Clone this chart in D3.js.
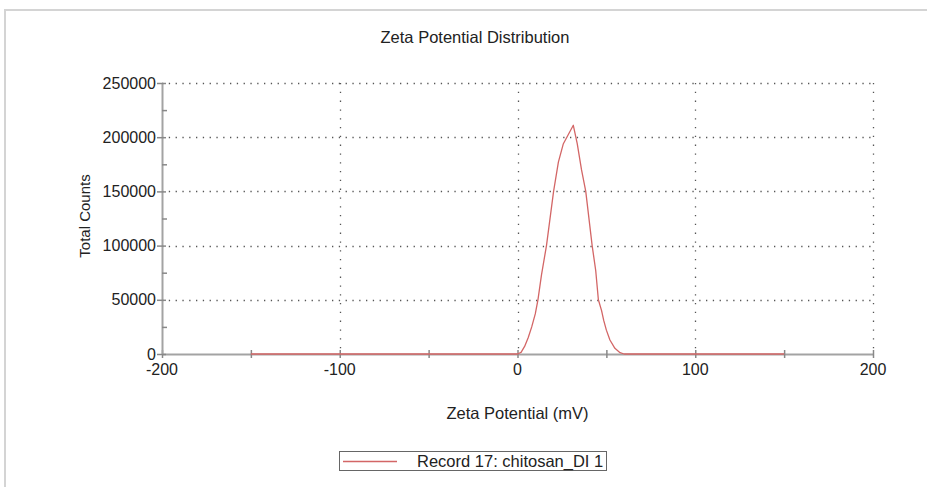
<!DOCTYPE html>
<html>
<head>
<meta charset="utf-8">
<script src="https://cdn.jsdelivr.net/npm/d3@7"></script>
<style>
  html, body { margin: 0; padding: 0; background: #fff; }
  svg { display: block; font-family: "Liberation Sans", Arial, sans-serif; }
</style>
</head>
<body>
<svg id="chart" width="927" height="487"></svg>
<script>
// Zeta potential distribution for one measurement record
const zetaPotential = [-150, 0, 2, 4, 6, 8, 10, 11.5, 13.5, 16.3, 20.3, 23, 25.8, 31.4, 33.6, 36, 38.4, 42, 44, 45.5, 47.3, 48.5, 50, 52, 54.8, 57.7, 60, 150];
const totalCounts   = [0, 0, 1500, 7000, 15000, 25000, 37000, 50000, 73000, 100000, 150000, 177000, 194000, 211000, 194000, 170000, 150000, 100000, 77000, 50000, 40000, 31000, 22000, 12900, 5200, 1200, 0, 0];

const xTicks = [-200, -100, 0, 100, 200];
const xMinorTicks = [-150, -50, 50, 150];
const yTicks = [0, 50000, 100000, 150000, 200000, 250000];
const yMinorTicks = [25000, 75000, 125000, 175000, 225000];

const titleText = "Zeta Potential Distribution";
const xLabelText = "Zeta Potential (mV)";
const yLabelText = "Total Counts";
const seriesName = "Record 17: chitosan_DI 1";

const svg = d3.select("#chart");
const W = 927, H = 487;
const plot = { left: 162, right: 873, top: 83, bottom: 354 };
const fontSize = 16.5;
const textColor = "#222";
const axisColor = "#a3a3a3";
const lineColor = "#d36666";

// outer frame (top and left edges)
svg.append("path")
  .attr("d", `M5,${H} L5,10 L${W},10`)
  .attr("fill", "none").attr("stroke", "#d4d4d4").attr("stroke-width", 2);

const x = d3.scaleLinear().domain([-200, 200]).range([plot.left, plot.right]);
const y = d3.scaleLinear().domain([0, 250000]).range([plot.bottom, plot.top]);

// dotted grid
const grid = svg.append("g").attr("stroke", "#555").attr("stroke-width", 1.3).attr("fill", "none");
grid.selectAll("line.h").data(yTicks.filter(d => d > 0)).join("line")
  .attr("class", "h")
  .attr("x1", plot.left).attr("x2", plot.right)
  .attr("y1", d => Math.round(y(d)) + 0.5).attr("y2", d => Math.round(y(d)) + 0.5)
  .attr("stroke-dasharray", "1.3,5.5");
grid.selectAll("line.v").data(xTicks.filter(d => d > -200)).join("line")
  .attr("class", "v")
  .attr("y1", plot.top).attr("y2", plot.bottom)
  .attr("x1", d => Math.round(x(d)) + 0.5).attr("x2", d => Math.round(x(d)) + 0.5)
  .attr("stroke-dasharray", "1.3,7.5");

// x axis: major and minor ticks, both crossing the axis line
const xAxisG = svg.append("g").attr("transform", `translate(0,${plot.bottom})`)
  .call(d3.axisBottom(x).tickValues(xTicks.concat(xMinorTicks)).tickFormat(() => "").tickSizeOuter(0).tickSizeInner(5));
xAxisG.select(".domain").attr("stroke", axisColor).attr("stroke-width", 2);
xAxisG.selectAll(".tick line").attr("y1", -4).attr("y2", 4).attr("stroke", "#888").attr("stroke-width", 1.5);

svg.append("g").selectAll("text").data(xTicks).join("text")
  .attr("x", d => x(d)).attr("y", plot.bottom + 21)
  .attr("text-anchor", "middle").attr("font-size", 16).attr("fill", textColor)
  .text(d => d);

// y axis: major ticks cross the line, minor ticks point inward
const yAxisG = svg.append("g").attr("transform", `translate(${plot.left},0)`)
  .call(d3.axisLeft(y).tickValues(yTicks).tickFormat(() => "").tickSizeOuter(0).tickSizeInner(5));
yAxisG.select(".domain").attr("stroke", axisColor).attr("stroke-width", 2);
yAxisG.selectAll(".tick line").attr("x1", 4).attr("x2", -5).attr("stroke", "#888").attr("stroke-width", 1.5);

const yMinorG = svg.append("g").attr("transform", `translate(${plot.left},0)`)
  .call(d3.axisLeft(y).tickValues(yMinorTicks).tickFormat(() => "").tickSizeOuter(0).tickSizeInner(-5));
yMinorG.select(".domain").remove();
yMinorG.selectAll(".tick line").attr("stroke", "#888").attr("stroke-width", 1.5);

svg.append("g").selectAll("text").data(yTicks).join("text")
  .attr("x", plot.left - 6).attr("y", d => y(d) + 5.5)
  .attr("text-anchor", "end").attr("font-size", 16).attr("fill", textColor)
  .text(d => d);

// data line
const line = d3.line().x((d, i) => x(zetaPotential[i])).y(d => y(d));
svg.append("path")
  .attr("d", line(totalCounts))
  .attr("fill", "none").attr("stroke", lineColor).attr("stroke-width", 1.3)
  .attr("stroke-linejoin", "round");

// titles
svg.append("text").attr("x", 475).attr("y", 43)
  .attr("text-anchor", "middle").attr("font-size", fontSize).attr("fill", textColor)
  .text(titleText);
svg.append("text").attr("x", (plot.left + plot.right) / 2).attr("y", 419)
  .attr("text-anchor", "middle").attr("font-size", fontSize).attr("fill", textColor)
  .text(xLabelText);
svg.append("text").attr("transform", "translate(90,216) rotate(-90)")
  .attr("text-anchor", "middle").attr("font-size", 15).attr("fill", textColor)
  .text(yLabelText);

// legend
const lg = svg.append("g");
lg.append("rect").attr("x", 339.5).attr("y", 451.5).attr("width", 267).attr("height", 19)
  .attr("fill", "#fff").attr("stroke", "#666").attr("stroke-width", 1);
lg.append("line").attr("x1", 343).attr("x2", 397).attr("y1", 461.5).attr("y2", 461.5)
  .attr("stroke", lineColor).attr("stroke-width", 1.3);
lg.append("text").attr("x", 417).attr("y", 467)
  .attr("font-size", fontSize).attr("fill", textColor)
  .text(seriesName);
</script>
</body>
</html>
